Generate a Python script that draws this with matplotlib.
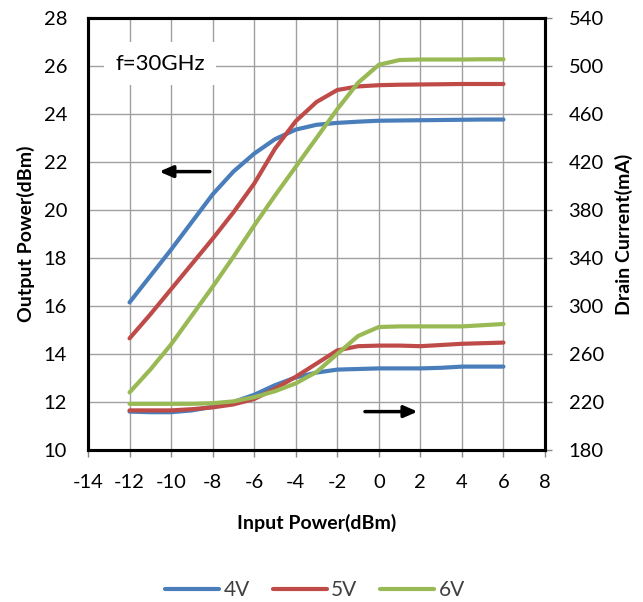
import numpy as np
import matplotlib
matplotlib.use("Agg")
import matplotlib.pyplot as plt

plt.rcParams["font.family"] = ["Lato", "DejaVu Sans"]
plt.rcParams["axes.unicode_minus"] = False

# ─── DATA ─────────────────────────────────────────────────
pin = [-12, -11, -10, -9, -8, -7, -6, -5, -4, -3, -2, -1, 0, 1, 2, 3, 4, 5, 6]

pout_4v = [16.15, 17.25, 18.35, 19.5, 20.65, 21.6, 22.35, 22.95, 23.35, 23.55,
           23.63, 23.68, 23.72, 23.73, 23.74, 23.75, 23.76, 23.77, 23.77]
pout_5v = [14.65, 15.65, 16.7, 17.75, 18.8, 19.9, 21.1, 22.55, 23.7, 24.5,
           25.0, 25.15, 25.2, 25.22, 25.23, 25.24, 25.25, 25.25, 25.25]
pout_6v = [12.4, 13.35, 14.4, 15.6, 16.8, 18.05, 19.35, 20.6, 21.8, 23.0,
           24.2, 25.3, 26.05, 26.25, 26.27, 26.27, 26.27, 26.28, 26.28]

id_4v = [212, 211.5, 211.5, 213, 216, 220, 226, 234, 240.5, 244.5,
         247, 247.5, 248, 248, 248, 248.5, 249.5, 249.5, 249.5]
id_5v = [213, 213, 213, 214, 215.5, 218, 222.5, 231, 241, 252,
         263, 266.5, 267, 267, 266.5, 267.5, 268.5, 269, 269.5]
id_6v = [218.5, 218.5, 218.5, 218.5, 219, 220.5, 224, 229, 235.5, 245,
         260, 275, 282.5, 283, 283, 283, 283, 284, 285]

labels = ["4V", "5V", "6V"]
colors = ["#4A7EBB", "#BE4B48", "#98B954"]

x_ticks = list(range(-14, 9, 2))
y_ticks = list(range(10, 29, 2))
y2_ticks = list(range(180, 541, 40))

# ─── PLOT ─────────────────────────────────────────────────
fig = plt.figure(figsize=(6.43, 6.02), dpi=100)
ax = fig.add_axes([88 / 643, 1 - 450 / 602, (545 - 88) / 643, (450 - 18) / 602])
ax2 = ax.twinx()

lw = 3.0
for pout, lab, c in zip([pout_4v, pout_5v, pout_6v], labels, colors):
    ax.plot(pin, pout, color=c, lw=lw, label=lab, solid_capstyle="round",
            solid_joinstyle="round", zorder=3)
for cur, c in zip([id_4v, id_5v, id_6v], colors):
    ax2.plot(pin, cur, color=c, lw=lw, solid_capstyle="round",
             solid_joinstyle="round", zorder=3)

ax.set_xlim(-14, 8)
ax.set_ylim(10, 28)
ax2.set_ylim(180, 540)
ax.set_xticks(x_ticks)
ax.set_yticks(y_ticks)
ax2.set_yticks(y2_ticks)

ax.grid(True, color="#A0A0A0", lw=1.0, zorder=0)
ax.set_axisbelow(True)

ax.tick_params(axis="x", direction="out", length=5, width=1, color="#888888",
               labelsize=14.5, pad=12)
ax.tick_params(axis="y", length=0, labelsize=14.5, pad=15)
ax2.tick_params(axis="y", direction="out", length=5, width=1, color="#888888",
                labelsize=14.5, pad=12)

for a in (ax, ax2):
    for s in a.spines.values():
        s.set_color("black")
        s.set_linewidth(2.2)

ax.set_xlabel("Input Power(dBm)", fontsize=14, fontweight="bold", labelpad=17)
ax.set_ylabel("Output Power(dBm)", fontsize=14, fontweight="bold", labelpad=6)
ax2.set_ylabel("Drain Current(mA)", fontsize=14, fontweight="bold", labelpad=8)

ax.text(-12.7, 26.1, "f=30GHz", fontsize=16, ha="left", va="center",
        bbox=dict(facecolor="white", edgecolor="none", pad=8), zorder=4)

# arrows pointing to the axis each family belongs to
ax.annotate("", xy=(-10.7, 21.6), xytext=(-8.0, 21.6),
            arrowprops=dict(arrowstyle="-|>,head_length=0.8,head_width=0.35",
                            color="black", lw=2.5), zorder=5)
ax2.annotate("", xy=(2.0, 212), xytext=(-0.8, 212),
             arrowprops=dict(arrowstyle="-|>,head_length=0.8,head_width=0.35",
                             color="black", lw=2.5), zorder=5)

leg = fig.legend(loc="lower center", bbox_to_anchor=(0.49, -0.028), ncol=3, frameon=False,
                 fontsize=15, handlelength=2.6, columnspacing=1.1, handletextpad=0.2)
for t in leg.get_texts():
    t.set_color("#404040")

plt.savefig("out.png", dpi=100)
